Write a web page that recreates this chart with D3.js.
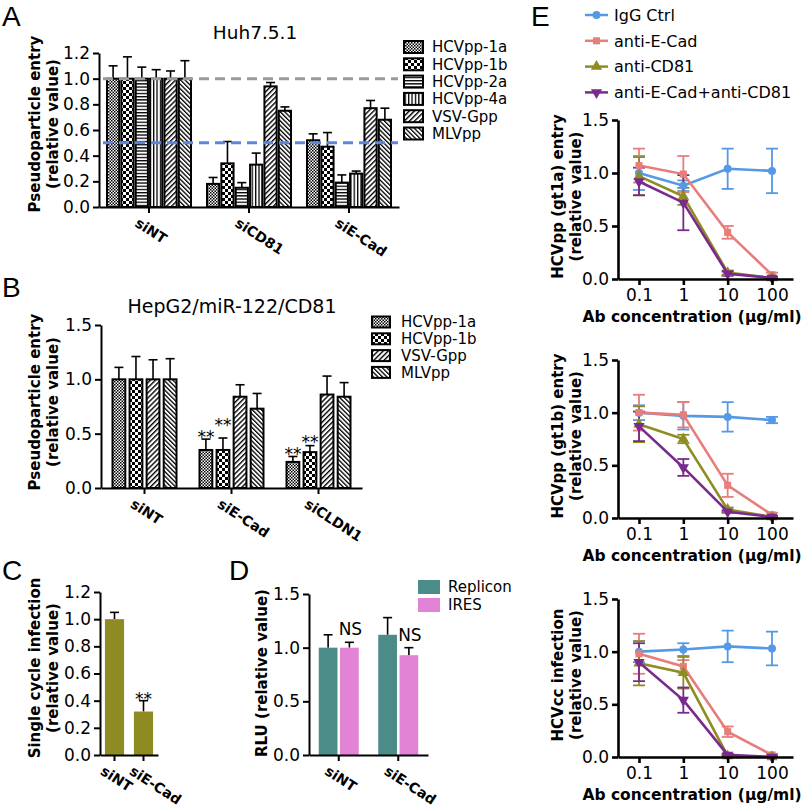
<!DOCTYPE html>
<html><head><meta charset="utf-8">
<script src="https://cdn.jsdelivr.net/npm/d3@7"></script>
<style>
body{margin:0;background:#fff}
text{font-family:"DejaVu Sans",Verdana,sans-serif;fill:#000}
</style>
</head><body>
<svg id="fig" width="810" height="812"></svg>
<script>
// ---------------- DATA ----------------
const catsA = ["siNT", "siCD81", "siE-Cad"];
const seriesA = ["HCVpp-1a", "HCVpp-1b", "HCVpp-2a", "HCVpp-4a", "VSV-Gpp", "MLVpp"];
const valsA = [[1.00, 1.00, 1.00, 1.00, 1.00, 1.00],
               [0.18, 0.34, 0.15, 0.33, 0.94, 0.75],
               [0.52, 0.47, 0.19, 0.26, 0.77, 0.68]];
const errA  = [[0.10, 0.17, 0.09, 0.07, 0.06, 0.14],
               [0.05, 0.17, 0.04, 0.09, 0.03, 0.03],
               [0.05, 0.11, 0.06, 0.02, 0.06, 0.09]];
const refLinesA = [1.0, 0.5];
const ticksA = [0, 0.2, 0.4, 0.6, 0.8, 1.0, 1.2];

const catsB = ["siNT", "siE-Cad", "siCLDN1"];
const seriesB = ["HCVpp-1a", "HCVpp-1b", "VSV-Gpp", "MLVpp"];
const valsB = [[1.00, 1.00, 1.00, 1.00],
               [0.35, 0.35, 0.84, 0.73],
               [0.24, 0.33, 0.86, 0.84]];
const errB  = [[0.11, 0.21, 0.18, 0.19],
               [0.10, 0.11, 0.11, 0.14],
               [0.05, 0.06, 0.17, 0.13]];
const starsB = [[false, false, false, false],
                [true, true, false, false],
                [true, true, false, false]];
const ticksB = [0, 0.5, 1.0, 1.5];

const catsC = ["siNT", "siE-Cad"];
const valsC = [1.00, 0.32];
const errC  = [0.05, 0.08];
const starsC = [false, true];
const ticksC = [0, 0.2, 0.4, 0.6, 0.8, 1.0, 1.2];

const catsD = ["siNT", "siE-Cad"];
const seriesD = ["Replicon", "IRES"];
const valsD = [[1.00, 1.00], [1.12, 0.93]];
const errD  = [[0.12, 0.05], [0.16, 0.07]];
const nsD   = [[false, true], [false, true]];
const ticksD = [0, 0.5, 1.0, 1.5];

const concE = [0.1, 1, 10, 100];
const seriesE = ["IgG Ctrl", "anti-E-Cad", "anti-CD81", "anti-E-Cad+anti-CD81"];
const ticksE = [0, 0.5, 1.0, 1.5];
const gt1aMean = [[1.00, 0.88, 1.04, 1.02], [1.07, 0.99, 0.44, 0.04], [0.97, 0.78, 0.06, 0.01], [0.92, 0.72, 0.05, 0.01]];
const gt1aErr  = [[0.16, 0.05, 0.19, 0.21], [0.16, 0.17, 0.06, 0.02], [0.18, 0.08, 0.02, 0.01], [0.13, 0.26, 0.02, 0.01]];
const gt1bMean = [[1.00, 0.97, 0.96, 0.93], [1.00, 0.98, 0.31, 0.03], [0.89, 0.75, 0.08, 0.01], [0.87, 0.48, 0.06, 0.01]];
const gt1bErr  = [[0.07, 0.13, 0.14, 0.03], [0.17, 0.12, 0.11, 0.02], [0.17, 0.04, 0.02, 0.01], [0.14, 0.08, 0.01, 0.01]];
const hcvccMean = [[1.00, 1.02, 1.05, 1.03], [0.98, 0.86, 0.24, 0.02], [0.89, 0.80, 0.01, 0.00], [0.90, 0.54, 0.02, 0.00]];
const hcvccErr  = [[0.10, 0.06, 0.15, 0.16], [0.19, 0.06, 0.05, 0.01], [0.21, 0.15, 0.01, 0.01], [0.18, 0.12, 0.01, 0.01]];

// ---------------- STYLE ----------------
const colE = ["#5599e6", "#e77e7b", "#8f8c22", "#7a2a8c"];
const symE = [d3.symbolCircle, d3.symbolSquare, d3.symbolTriangle, "down"];
const colC = "#8f8b23";
const colD = ["#4b8c88", "#e383d6"];
const patId = {"HCVpp-1a": "p1a", "HCVpp-1b": "p1b", "HCVpp-2a": "p2a", "HCVpp-4a": "p4a", "VSV-Gpp": "pvsv", "MLVpp": "pmlv"};
const TICK = 17, LAB = 15, LEG = 15, XLAB = 14;

const svg = d3.select("#fig");
const defs = svg.append("defs");
function pat(id, w, h, draw, transform) {
  const p = defs.append("pattern").attr("id", id).attr("patternUnits", "userSpaceOnUse")
    .attr("width", w).attr("height", h);
  if (transform) p.attr("patternTransform", transform);
  p.append("rect").attr("width", w).attr("height", h).attr("fill", "#fff");
  draw(p);
}
pat("p1a", 3, 3, p => { p.append("rect").attr("width", 1.5).attr("height", 1.5).attr("fill", "#000");
  p.append("rect").attr("x", 1.5).attr("y", 1.5).attr("width", 1.5).attr("height", 1.5).attr("fill", "#000"); });
pat("p1b", 6, 6, p => { p.append("rect").attr("width", 3).attr("height", 3).attr("fill", "#000");
  p.append("rect").attr("x", 3).attr("y", 3).attr("width", 3).attr("height", 3).attr("fill", "#000"); });
pat("p2a", 4, 3.2, p => p.append("rect").attr("width", 4).attr("height", 1.3).attr("fill", "#000"));
pat("p4a", 3.4, 4, p => p.append("rect").attr("width", 1.3).attr("height", 4).attr("fill", "#000"));
pat("pvsv", 3.6, 4, p => p.append("rect").attr("width", 1.4).attr("height", 4).attr("fill", "#000"), "rotate(45)");
pat("pmlv", 3.2, 4, p => p.append("rect").attr("width", 1.3).attr("height", 4).attr("fill", "#000"), "rotate(-45)");

const fmt1 = d3.format(".1f");

function panelLetter(t, x, y) {
  svg.append("text").attr("x", x).attr("y", y).text(t)
    .style("font-family", "'Liberation Sans',Arial,sans-serif").style("font-size", "28px");
}
function yLabel(lines, cx, cy, size) {
  const t = svg.append("text").attr("transform", `translate(${cx},${cy}) rotate(-90)`)
    .attr("text-anchor", "middle").style("font-weight", "bold").style("font-size", size + "px");
  lines.forEach((l, i) => t.append("tspan").attr("x", 0).attr("dy", i === 0 ? (-(lines.length - 1) * 0.6 + 0.35) + "em" : "1.2em").text(l));
}
function styleAxis(g, w, fs) {
  g.select(".domain").attr("stroke", "#000").attr("stroke-width", w);
  g.selectAll(".tick line").attr("stroke", "#000").attr("stroke-width", w);
  g.selectAll(".tick text").style("font-size", fs + "px").attr("fill", "#000");
}
function rotLabels(cats, x, y0, fs) {
  cats.forEach(c => {
    svg.append("text").attr("transform", `translate(${x(c) + x.bandwidth() / 2 - 9},${y0 + 9}) rotate(33)`)
      .attr("dy", "0.8em").style("font-weight", "bold").style("font-size", fs + "px").text(c);
  });
}
function errBar(g, cx, yTop, yBot, capW, color, w) {
  g.append("line").attr("x1", cx).attr("x2", cx).attr("y1", yTop).attr("y2", yBot).attr("stroke", color).attr("stroke-width", w);
  g.append("line").attr("x1", cx - capW / 2).attr("x2", cx + capW / 2).attr("y1", yTop).attr("y2", yTop).attr("stroke", color).attr("stroke-width", w);
}
function stars(x, y) {
  svg.append("text").attr("x", x).attr("y", y).attr("text-anchor", "middle")
    .style("font-size", "17px").text("**");
}

// generic grouped bar panel
function groupedBars(o) {
  const x = d3.scaleBand().domain(o.cats).range(o.xRange).padding(0);
  const inner = d3.scaleBand().domain(o.series).range(o.inner).paddingInner(o.pad);
  const y = d3.scaleLinear().domain([0, o.ymax]).range(o.yRange);
  const g = svg.append("g");
  o.cats.forEach((c, i) => {
    o.series.forEach((s, j) => {
      const v = o.vals[i][j], e = o.errs[i][j];
      const cx = x(c) + x.bandwidth() / 2 + inner(s) + inner.bandwidth() / 2;
      errBar(g, cx, y(v + e), y(v), o.capW, "#000", 1.6);
      g.append("rect").attr("x", x(c) + x.bandwidth() / 2 + inner(s)).attr("width", inner.bandwidth())
        .attr("y", y(v)).attr("height", y(0) - y(v))
        .attr("fill", o.fill(s, j)).attr("stroke", o.stroke(s, j)).attr("stroke-width", o.sw);
    });
  });
  const ya = svg.append("g").attr("transform", `translate(${o.xRange[0]},0)`)
    .call(d3.axisLeft(y).tickValues(o.ticks).tickFormat(fmt1).tickSize(6).tickSizeOuter(0).tickPadding(3));
  styleAxis(ya, 2, TICK);
  const xa = svg.append("g").attr("transform", `translate(0,${o.yRange[0]})`)
    .call(d3.axisBottom(x).tickSize(6).tickSizeOuter(0).tickFormat(""));
  styleAxis(xa, 2, TICK);
  rotLabels(o.cats, x, o.yRange[0], XLAB);
  return {x, inner, y, g};
}

// ---------------- PANEL A ----------------
panelLetter("A", 2, 26);
svg.append("text").attr("x", 255).attr("y", 39).attr("text-anchor", "middle").style("font-size", "18.5px").text("Huh7.5.1");
const A = groupedBars({cats: catsA, series: seriesA, vals: valsA, errs: errA, xRange: [99, 399], inner: [-42, 42], pad: 0.15,
  ymax: 1.2, yRange: [207, 53], ticks: ticksA, capW: 9, sw: 2,
  fill: s => `url(#${patId[s]})`, stroke: () => "#000"});
[["#9a9a9a", refLinesA[0]], ["#5b86e0", refLinesA[1]]].forEach(([c, v]) => {
  svg.append("line").attr("x1", 103).attr("x2", 398).attr("y1", A.y(v)).attr("y2", A.y(v))
    .attr("stroke", c).attr("stroke-width", 3).attr("stroke-dasharray", "10,6");
});
yLabel(["Pseudoparticle entry", "(relative value)"], 44, 124, LAB);
seriesA.forEach((s, i) => {
  const yy = 47 + i * 17.3;
  svg.append("rect").attr("x", 404).attr("y", yy - 6).attr("width", 19).attr("height", 12)
    .attr("fill", `url(#${patId[s]})`).attr("stroke", "#000").attr("stroke-width", 2);
  svg.append("text").attr("x", 432).attr("y", yy).attr("dy", "0.36em").style("font-size", LEG + "px").text(s);
});

// ---------------- PANEL B ----------------
panelLetter("B", 2, 297);
svg.append("text").attr("x", 232).attr("y", 313).attr("text-anchor", "middle").style("font-size", "19px").text("HepG2/miR-122/CD81");
const B = groupedBars({cats: catsB, series: seriesB, vals: valsB, errs: errB, xRange: [101, 362], inner: [-32, 32], pad: 0.25,
  ymax: 1.5, yRange: [488, 325], ticks: ticksB, capW: 9, sw: 2,
  fill: s => `url(#${patId[s]})`, stroke: () => "#000"});
catsB.forEach((c, i) => {
  let prev = null;
  seriesB.forEach((s, j) => {
    if (!starsB[i][j]) return;
    const cx = B.x(c) + B.x.bandwidth() / 2 + B.inner(s) + B.inner.bandwidth() / 2;
    let yb = B.y(valsB[i][j] + errB[i][j]) + 4;
    if (prev !== null && yb > prev - 12) yb = prev - 12;
    prev = yb;
    stars(cx, yb);
  });
});
yLabel(["Pseudoparticle entry", "(relative value)"], 44, 402, LAB);
seriesB.forEach((s, i) => {
  const yy = 322 + i * 16.8;
  svg.append("rect").attr("x", 372).attr("y", yy - 5.5).attr("width", 18).attr("height", 11)
    .attr("fill", `url(#${patId[s]})`).attr("stroke", "#000").attr("stroke-width", 2);
  svg.append("text").attr("x", 401).attr("y", yy).attr("dy", "0.36em").style("font-size", LEG + "px").text(s);
});

// ---------------- PANEL C ----------------
panelLetter("C", 2, 580);
{
  const x = d3.scaleBand().domain(catsC).range([100, 158]).padding(0);
  const y = d3.scaleLinear().domain([0, 1.2]).range([755, 592]);
  const bw = x.bandwidth() * 0.66;
  catsC.forEach((c, i) => {
    const cx = x(c) + x.bandwidth() / 2;
    errBar(svg, cx, y(valsC[i] + errC[i]), y(valsC[i]), 9, "#000", 1.6);
    svg.append("rect").attr("x", cx - bw / 2).attr("width", bw).attr("y", y(valsC[i])).attr("height", y(0) - y(valsC[i])).attr("fill", colC);
    if (starsC[i]) stars(cx, y(valsC[i] + errC[i]) + 4);
  });
  const ya = svg.append("g").attr("transform", "translate(100,0)")
    .call(d3.axisLeft(y).tickValues(ticksC).tickFormat(fmt1).tickSize(6).tickSizeOuter(0).tickPadding(3));
  styleAxis(ya, 2, TICK);
  const xa = svg.append("g").attr("transform", "translate(0,755)").call(d3.axisBottom(x).tickSize(6).tickSizeOuter(0).tickFormat(""));
  styleAxis(xa, 2, TICK);
  rotLabels(catsC, x, 755, XLAB);
  yLabel(["Single cycle infection", "(relative value)"], 44, 668, LAB);
}

// ---------------- PANEL D ----------------
panelLetter("D", 229, 580);
{
  const x = d3.scaleBand().domain(catsD).range([309, 428]).padding(0);
  const inner = d3.scaleBand().domain(seriesD).range([-20, 20]).paddingInner(0.12);
  const y = d3.scaleLinear().domain([0, 1.5]).range([755, 594]);
  catsD.forEach((c, i) => {
    seriesD.forEach((s, j) => {
      const x0 = x(c) + x.bandwidth() / 2 + inner(s);
      const cx = x0 + inner.bandwidth() / 2;
      errBar(svg, cx, y(valsD[i][j] + errD[i][j]), y(valsD[i][j]), 9, "#000", 1.6);
      svg.append("rect").attr("x", x0).attr("width", inner.bandwidth()).attr("y", y(valsD[i][j]))
        .attr("height", y(0) - y(valsD[i][j])).attr("fill", colD[j]);
      if (nsD[i][j]) svg.append("text").attr("x", cx + 1).attr("y", y(valsD[i][j] + errD[i][j]) - 7)
        .attr("text-anchor", "middle").style("font-size", "17px").text("NS");
    });
  });
  const ya = svg.append("g").attr("transform", "translate(309,0)")
    .call(d3.axisLeft(y).tickValues(ticksD).tickFormat(fmt1).tickSize(6).tickSizeOuter(0).tickPadding(3));
  styleAxis(ya, 2, TICK);
  const xa = svg.append("g").attr("transform", "translate(0,755)").call(d3.axisBottom(x).tickSize(6).tickSizeOuter(0).tickFormat(""));
  styleAxis(xa, 2, TICK);
  rotLabels(catsD, x, 755, XLAB);
  yLabel(["RLU (relative value)"], 262, 673, LAB);
  seriesD.forEach((s, i) => {
    const yy = 587 + i * 18;
    svg.append("rect").attr("x", 418).attr("y", yy - 7).attr("width", 22).attr("height", 14).attr("fill", colD[i]);
    svg.append("text").attr("x", 448).attr("y", yy).attr("dy", "0.36em").style("font-size", LEG + "px").text(s);
  });
}

// ---------------- PANEL E ----------------
panelLetter("E", 531, 26);
function marker(g, k, cx, cy) {
  if (symE[k] === "down") {
    g.append("path").attr("d", d3.symbol().type(d3.symbolTriangle).size(55)()).attr("transform", `translate(${cx},${cy}) rotate(180)`).attr("fill", colE[k]);
  } else {
    g.append("path").attr("d", d3.symbol().type(symE[k]).size(symE[k] === d3.symbolTriangle ? 55 : 50)()).attr("transform", `translate(${cx},${cy})`).attr("fill", colE[k]);
  }
}
seriesE.forEach((s, k) => {
  const yy = 15 + k * 25.8;
  svg.append("line").attr("x1", 585).attr("x2", 608).attr("y1", yy).attr("y2", yy).attr("stroke", colE[k]).attr("stroke-width", 2.5);
  marker(svg, k, 596.5, yy);
  svg.append("text").attr("x", 614).attr("y", yy).attr("dy", "0.36em").style("font-size", "16px").text(s);
});
function doseChart(mean, err, yRange, ylab) {
  const x0 = d3.scaleLog().domain([0.1, 100]).range([639, 772]);
  const x = d3.scaleLog().domain([x0.invert(618), x0.invert(793)]).range([618, 793]);
  const y = d3.scaleLinear().domain([0, 1.5]).range(yRange);
  const g = svg.append("g");
  const line = d3.line().x((d, i) => x(concE[i])).y(d => y(d));
  seriesE.forEach((s, k) => {
    mean[k].forEach((v, i) => {
      const cx = x(concE[i]);
      g.append("line").attr("x1", cx).attr("x2", cx).attr("y1", y(v + err[k][i])).attr("y2", y(Math.max(0, v - err[k][i])))
        .attr("stroke", colE[k]).attr("stroke-width", 1.8);
      [v + err[k][i], Math.max(0, v - err[k][i])].forEach(e =>
        g.append("line").attr("x1", cx - 6).attr("x2", cx + 6).attr("y1", y(e)).attr("y2", y(e)).attr("stroke", colE[k]).attr("stroke-width", 1.8));
    });
  });
  seriesE.forEach((s, k) => {
    g.append("path").datum(mean[k]).attr("d", line).attr("fill", "none").attr("stroke", colE[k]).attr("stroke-width", 2.6);
    mean[k].forEach((v, i) => marker(g, k, x(concE[i]), y(v)));
  });
  const ya = svg.append("g").attr("transform", "translate(618,0)")
    .call(d3.axisLeft(y).tickValues(ticksE).tickFormat(fmt1).tickSize(6).tickSizeOuter(0).tickPadding(3));
  styleAxis(ya, 2.6, TICK);
  const xa = svg.append("g").attr("transform", `translate(0,${yRange[0]})`)
    .call(d3.axisBottom(x).tickValues(concE).tickFormat(d3.format("~g")).tickSize(6).tickSizeOuter(0).tickPadding(4));
  styleAxis(xa, 2.6, TICK);
  svg.append("text").attr("x", 692).attr("y", yRange[0] + 43).attr("text-anchor", "middle")
    .style("font-weight", "bold").style("font-size", "15.5px").text("Ab concentration (μg/ml)");
  yLabel([ylab, "(relative value)"], 567, (yRange[0] + yRange[1]) / 2 - 3, LAB);
}
doseChart(gt1aMean, gt1aErr, [279, 120], "HCVpp (gt1a) entry");
doseChart(gt1bMean, gt1bErr, [518, 360], "HCVpp (gt1b) entry");
doseChart(hcvccMean, hcvccErr, [757, 599], "HCVcc infection");
</script>
</body></html>
